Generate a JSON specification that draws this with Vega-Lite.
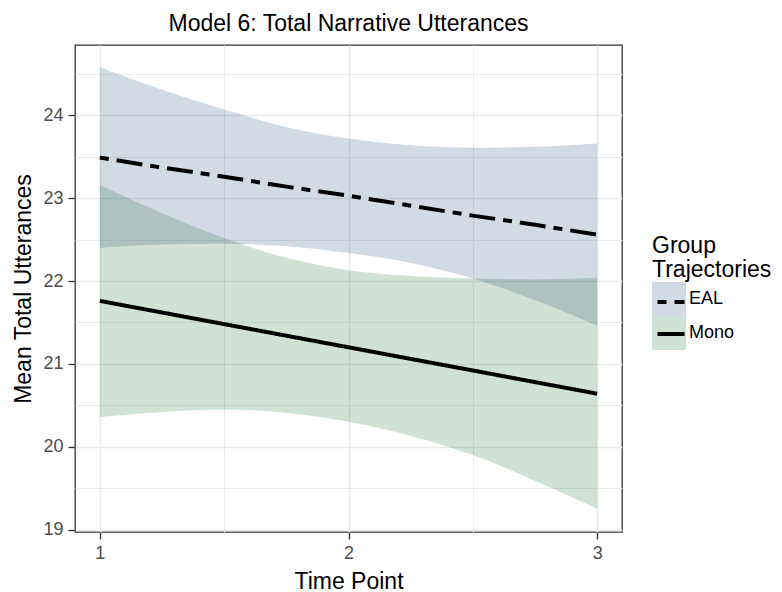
{
  "$schema": "https://vega.github.io/schema/vega-lite/v6.json",
  "autosize": {"type": "none"},
  "padding": {"left": 75, "top": 45, "right": 160, "bottom": 60},
  "width": 547,
  "height": 487,
  "background": "white",
  "title": {
    "text": "Model 6: Total Narrative Utterances",
    "fontSize": 23,
    "fontWeight": "normal",
    "font": "Liberation Sans",
    "color": "black",
    "anchor": "middle",
    "baseline": "alphabetic",
    "offset": 14,
    "dy": 23
  },
  "data": {
    "values": [
      {"t": 1, "group": "EAL", "fit": 23.49, "lo": 22.40, "hi": 24.58},
      {"t": 1.25, "group": "EAL", "fit": 23.37, "lo": 22.44, "hi": 24.31},
      {"t": 1.5, "group": "EAL", "fit": 23.26, "lo": 22.45, "hi": 24.07},
      {"t": 1.75, "group": "EAL", "fit": 23.14, "lo": 22.42, "hi": 23.86},
      {"t": 2, "group": "EAL", "fit": 23.03, "lo": 22.34, "hi": 23.72},
      {"t": 2.25, "group": "EAL", "fit": 22.91, "lo": 22.22, "hi": 23.64},
      {"t": 2.5, "group": "EAL", "fit": 22.79, "lo": 22.03, "hi": 23.61},
      {"t": 2.75, "group": "EAL", "fit": 22.68, "lo": 21.77, "hi": 23.62},
      {"t": 3, "group": "EAL", "fit": 22.56, "lo": 21.46, "hi": 23.66},
      {"t": 1, "group": "Mono", "fit": 21.76, "lo": 20.36, "hi": 23.16},
      {"t": 1.25, "group": "Mono", "fit": 21.62, "lo": 20.42, "hi": 22.82},
      {"t": 1.5, "group": "Mono", "fit": 21.48, "lo": 20.45, "hi": 22.52},
      {"t": 1.75, "group": "Mono", "fit": 21.34, "lo": 20.41, "hi": 22.28},
      {"t": 2, "group": "Mono", "fit": 21.20, "lo": 20.30, "hi": 22.13},
      {"t": 2.25, "group": "Mono", "fit": 21.06, "lo": 20.13, "hi": 22.06},
      {"t": 2.5, "group": "Mono", "fit": 20.92, "lo": 19.90, "hi": 22.03},
      {"t": 2.75, "group": "Mono", "fit": 20.78, "lo": 19.59, "hi": 22.02},
      {"t": 3, "group": "Mono", "fit": 20.64, "lo": 19.25, "hi": 22.04}
    ]
  },
  "encoding": {
    "x": {
      "field": "t",
      "type": "quantitative",
      "scale": {"domain": [0.9, 3.1], "nice": false, "zero": false},
      "axis": {
        "title": "Time Point",
        "values": [1, 1.5, 2, 2.5, 3],
        "labelExpr": "datum.value % 1 === 0 ? format(datum.value, 'd') : ''",
        "tickOpacity": {"condition": {"test": "datum.value % 1 !== 0", "value": 0}, "value": 1},
        "gridWidth": {"condition": {"test": "datum.value % 1 !== 0", "value": 1}, "value": 1.6},
        "titleY": 56,
        "titleBaseline": "alphabetic"
      }
    }
  },
  "layer": [
    {
      "mark": {"type": "area", "fillOpacity": 0.2, "strokeWidth": 0, "interpolate": "monotone"},
      "encoding": {
        "y": {
          "field": "lo",
          "type": "quantitative",
          "scale": {"domain": [18.97, 24.85], "nice": false, "zero": false},
          "axis": {
            "title": "Mean Total Utterances",
            "values": [19, 19.5, 20, 20.5, 21, 21.5, 22, 22.5, 23, 23.5, 24, 24.5],
            "labelExpr": "datum.value % 1 === 0 ? format(datum.value, 'd') : ''",
            "tickOpacity": {"condition": {"test": "datum.value % 1 !== 0", "value": 0}, "value": 1},
            "gridWidth": {"condition": {"test": "datum.value % 1 !== 0", "value": 1}, "value": 1.6},
            "titleX": -44.5,
            "titleBaseline": "alphabetic"
          }
        },
        "y2": {"field": "hi"},
        "fill": {
          "field": "group",
          "type": "nominal",
          "scale": {"range": ["#1E4678", "#146932"]},
          "legend": {
            "title": ["Group", "Trajectories"],
            "orient": "none",
            "legendX": 577,
            "legendY": 190,
            "symbolType": "square",
            "symbolSize": 1156,
            "symbolOpacity": 0.2,
            "symbolStrokeWidth": 0,
            "titleFontSize": 23,
            "titleLineHeight": 24,
            "titlePadding": 0,
            "labelOffset": 3,
            "rowPadding": 0
          }
        }
      }
    },
    {
      "mark": {"type": "line", "color": "black", "strokeWidth": 4},
      "encoding": {
        "y": {"field": "fit", "type": "quantitative"},
        "detail": {"field": "group"},
        "strokeDash": {
          "field": "group",
          "type": "nominal",
          "scale": {"domain": ["EAL", "Mono"], "range": [[9, 8, 26, 8], [1, 0]]},
          "legend": {
            "title": null,
            "orient": "none",
            "legendX": 580.5,
            "legendY": 241.5,
            "symbolType": "stroke",
            "symbolSize": 729,
            "symbolStrokeWidth": 4,
            "symbolStrokeColor": "black",
            "labelExpr": "''",
            "rowPadding": 7
          }
        }
      }
    }
  ],
  "config": {
    "font": "Liberation Sans",
    "view": {"stroke": "#333333", "strokeWidth": 1.3},
    "axis": {
      "domain": false,
      "grid": true,
      "gridColor": "#EBEBEB",
      "tickColor": "#333333",
      "tickWidth": 1.3,
      "tickSize": 7,
      "labelPadding": 5,
      "labelFontSize": 18,
      "labelColor": "#4D4D4D",
      "titleFontSize": 23,
      "titleFontWeight": "normal",
      "titleColor": "black",
      "labelFont": "Liberation Sans",
      "titleFont": "Liberation Sans"
    },
    "legend": {
      "padding": 0,
      "labelFontSize": 18,
      "labelColor": "black",
      "titleFontWeight": "normal",
      "titleColor": "black",
      "labelFont": "Liberation Sans",
      "titleFont": "Liberation Sans"
    }
  }
}
